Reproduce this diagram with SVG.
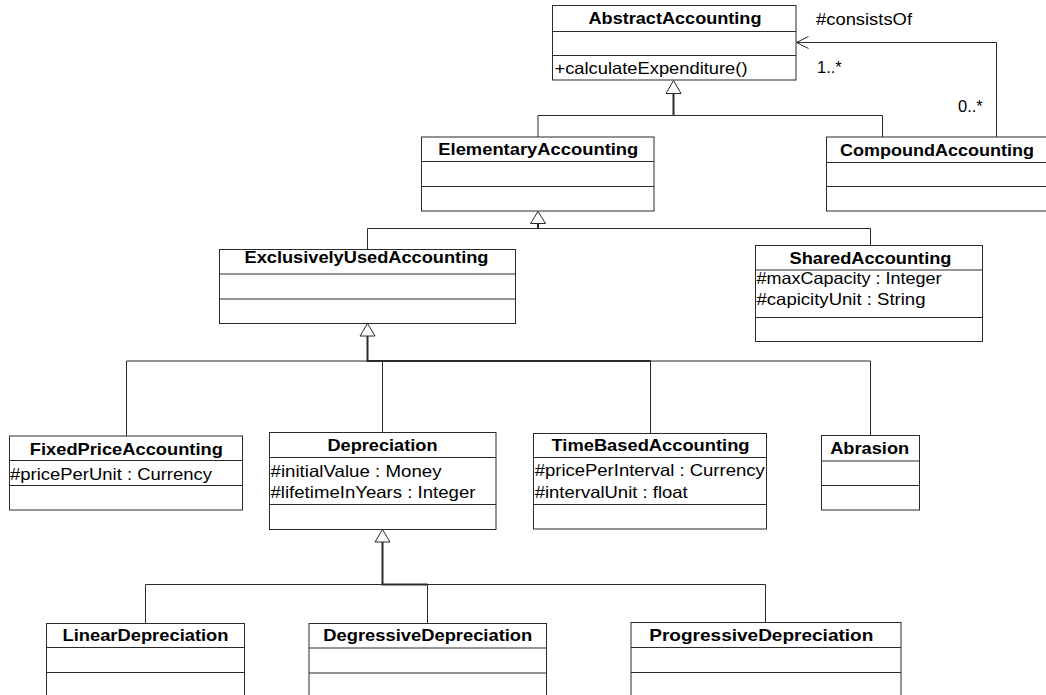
<svg xmlns="http://www.w3.org/2000/svg" width="1046" height="695" viewBox="0 0 1046 695">
  <style>
    .box { fill: #ffffff; stroke: #2a2a2a; stroke-width: 1; }
    .div { stroke: #2a2a2a; stroke-width: 1; }
    .name { font-family: "Liberation Sans", Arial, sans-serif; font-size: 16.5px; font-weight: bold; text-anchor: middle; fill: #000; }
    .attr { font-family: "Liberation Sans", Arial, sans-serif; font-size: 16.5px; fill: #000; }
    .lbl { font-family: "Liberation Sans", Arial, sans-serif; font-size: 16.5px; fill: #000; }
    .edge { fill: none; stroke: #2a2a2a; stroke-width: 1; }
    .stem { fill: none; stroke: #2a2a2a; stroke-width: 2; }
    .gen { fill: #ffffff; stroke: #2a2a2a; stroke-width: 1; }
  </style>
  <defs>
    <marker id="open" viewBox="0 0 14 14" refX="13" refY="7" markerWidth="14" markerHeight="14" markerUnits="userSpaceOnUse" orient="auto">
      <path d="M1,1 L13,7 L1,13" fill="none" stroke="#2a2a2a" stroke-width="1"/>
    </marker>
  </defs>
  <rect width="1046" height="695" fill="#ffffff"/>

  <!-- connectors -->
  <g id="connectors">
    <!-- Elementary / Compound -> Abstract -->
    <polyline class="edge" points="538,137 538,115.5 673.5,115.5"/>
    <polyline class="edge" points="882.5,137 882.5,115.5 673.5,115.5"/>
    <line class="stem" x1="673.5" y1="115.5" x2="673.5" y2="93"/>
    <polygon class="gen" points="673.5,80.5 666,93.5 681,93.5"/>

    <!-- association consistsOf -->
    <polyline class="edge" points="996.5,137 996.5,42.5 796.5,42.5" marker-end="url(#open)"/>

    <!-- Exclusively / Shared -> Elementary -->
    <polyline class="edge" points="367.5,249.5 367.5,228.5 538,228.5"/>
    <polyline class="edge" points="870.5,245.5 870.5,228.5 538,228.5"/>
    <line class="stem" x1="538" y1="228.5" x2="538" y2="223"/>
    <polygon class="gen" points="538,211.5 530.5,223.5 545.5,223.5"/>

    <!-- subclasses -> ExclusivelyUsed -->
    <polyline class="edge" points="126.5,436 126.5,361 367.5,361"/>
    <polyline class="edge" points="382.5,432.5 382.5,361 367.5,361"/>
    <polyline class="edge" points="650.5,433.5 650.5,361 367.5,361"/>
    <polyline class="edge" points="870.5,435.5 870.5,361 367.5,361"/>
    <polyline class="stem" points="367.5,336 367.5,361 650.5,361"/>
    <polygon class="gen" points="367.5,323.5 360,336 375,336"/>

    <!-- subclasses -> Depreciation -->
    <polyline class="edge" points="145.5,623.5 145.5,584.5 382.5,584.5"/>
    <polyline class="edge" points="427.5,623.5 427.5,584.5 382.5,584.5"/>
    <polyline class="edge" points="765.5,622.5 765.5,584.5 382.5,584.5"/>
    <polyline class="stem" points="382.5,542 382.5,584.5 427.5,584.5"/>
    <polygon class="gen" points="382.5,529.5 375,542 390,542"/>

    <text class="lbl" x="816" y="25" textLength="96" lengthAdjust="spacingAndGlyphs">#consistsOf</text>
    <text class="lbl" x="817" y="73">1..*</text>
    <text class="lbl" x="958" y="112">0..*</text>
  </g>

  <g id="AbstractAccounting">
    <rect class="box" x="552.5" y="5.5" width="243.5" height="74.5"/>
    <line class="div" x1="552.5" y1="31.5" x2="796" y2="31.5"/>
    <line class="div" x1="552.5" y1="55.5" x2="796" y2="55.5"/>
    <text class="name" x="675" y="24" textLength="173" lengthAdjust="spacingAndGlyphs">AbstractAccounting</text>
    <text class="attr" x="554.5" y="74" textLength="193" lengthAdjust="spacingAndGlyphs">+calculateExpenditure()</text>
  </g>

  <g id="ElementaryAccounting">
    <rect class="box" x="421.5" y="137" width="232.5" height="74"/>
    <line class="div" x1="421.5" y1="161.5" x2="654" y2="161.5"/>
    <line class="div" x1="421.5" y1="186.5" x2="654" y2="186.5"/>
    <text class="name" x="538.3" y="155" textLength="200" lengthAdjust="spacingAndGlyphs">ElementaryAccounting</text>
  </g>

  <g id="CompoundAccounting">
    <rect class="box" x="826.5" y="137" width="222" height="74"/>
    <line class="div" x1="826.5" y1="162.5" x2="1048" y2="162.5"/>
    <line class="div" x1="826.5" y1="186.5" x2="1048" y2="186.5"/>
    <text class="name" x="937" y="155.5" textLength="194" lengthAdjust="spacingAndGlyphs">CompoundAccounting</text>
  </g>

  <g id="ExclusivelyUsedAccounting">
    <rect class="box" x="219.5" y="249.5" width="296" height="74"/>
    <line class="div" x1="219.5" y1="274" x2="515.5" y2="274"/>
    <line class="div" x1="219.5" y1="299" x2="515.5" y2="299"/>
    <text class="name" x="366.5" y="263" textLength="244" lengthAdjust="spacingAndGlyphs">ExclusivelyUsedAccounting</text>
  </g>

  <g id="SharedAccounting">
    <rect class="box" x="755.5" y="245.5" width="227" height="96"/>
    <line class="div" x1="755.5" y1="270" x2="982.5" y2="270"/>
    <line class="div" x1="755.5" y1="317.5" x2="982.5" y2="317.5"/>
    <text class="name" x="870.5" y="263.5" textLength="162" lengthAdjust="spacingAndGlyphs">SharedAccounting</text>
    <text class="attr" x="756.5" y="284" textLength="185" lengthAdjust="spacingAndGlyphs">#maxCapacity : Integer</text>
    <text class="attr" x="756.5" y="305" textLength="169" lengthAdjust="spacingAndGlyphs">#capicityUnit : String</text>
  </g>

  <g id="FixedPriceAccounting">
    <rect class="box" x="9.5" y="436" width="233" height="74"/>
    <line class="div" x1="9.5" y1="460.5" x2="242.5" y2="460.5"/>
    <line class="div" x1="9.5" y1="485.5" x2="242.5" y2="485.5"/>
    <text class="name" x="126.3" y="454.5" textLength="193" lengthAdjust="spacingAndGlyphs">FixedPriceAccounting</text>
    <text class="attr" x="10" y="479.5" textLength="202" lengthAdjust="spacingAndGlyphs">#pricePerUnit : Currency</text>
  </g>

  <g id="Depreciation">
    <rect class="box" x="269.5" y="432.5" width="226.5" height="97"/>
    <line class="div" x1="269.5" y1="457.5" x2="496" y2="457.5"/>
    <line class="div" x1="269.5" y1="504.5" x2="496" y2="504.5"/>
    <text class="name" x="382.5" y="451" textLength="110" lengthAdjust="spacingAndGlyphs">Depreciation</text>
    <text class="attr" x="270.5" y="476.5" textLength="171" lengthAdjust="spacingAndGlyphs">#initialValue : Money</text>
    <text class="attr" x="270.5" y="498" textLength="205" lengthAdjust="spacingAndGlyphs">#lifetimeInYears : Integer</text>
  </g>

  <g id="TimeBasedAccounting">
    <rect class="box" x="533.5" y="433.5" width="233" height="95.5"/>
    <line class="div" x1="533.5" y1="457.5" x2="766.5" y2="457.5"/>
    <line class="div" x1="533.5" y1="504.5" x2="766.5" y2="504.5"/>
    <text class="name" x="650.5" y="451" textLength="198" lengthAdjust="spacingAndGlyphs">TimeBasedAccounting</text>
    <text class="attr" x="534.7" y="475.5" textLength="230" lengthAdjust="spacingAndGlyphs">#pricePerInterval : Currency</text>
    <text class="attr" x="534.7" y="497.5" textLength="153" lengthAdjust="spacingAndGlyphs">#intervalUnit : float</text>
  </g>

  <g id="Abrasion">
    <rect class="box" x="821.5" y="435.5" width="98" height="74.5"/>
    <line class="div" x1="821.5" y1="461" x2="919.5" y2="461"/>
    <line class="div" x1="821.5" y1="485.5" x2="919.5" y2="485.5"/>
    <text class="name" x="869.7" y="453.5" textLength="79" lengthAdjust="spacingAndGlyphs">Abrasion</text>
  </g>

  <g id="LinearDepreciation">
    <rect class="box" x="46.5" y="623.5" width="198" height="100"/>
    <line class="div" x1="46.5" y1="647.5" x2="244.5" y2="647.5"/>
    <line class="div" x1="46.5" y1="672.5" x2="244.5" y2="672.5"/>
    <text class="name" x="145.5" y="641" textLength="166" lengthAdjust="spacingAndGlyphs">LinearDepreciation</text>
  </g>

  <g id="DegressiveDepreciation">
    <rect class="box" x="309" y="623.5" width="237.5" height="100"/>
    <line class="div" x1="309" y1="648" x2="546.5" y2="648"/>
    <line class="div" x1="309" y1="673" x2="546.5" y2="673"/>
    <text class="name" x="427.8" y="641" textLength="209" lengthAdjust="spacingAndGlyphs">DegressiveDepreciation</text>
  </g>

  <g id="ProgressiveDepreciation">
    <rect class="box" x="631" y="622.5" width="270" height="100"/>
    <line class="div" x1="631" y1="647.5" x2="901" y2="647.5"/>
    <line class="div" x1="631" y1="672.5" x2="901" y2="672.5"/>
    <text class="name" x="761.3" y="640.5" textLength="224" lengthAdjust="spacingAndGlyphs">ProgressiveDepreciation</text>
  </g>
</svg>
